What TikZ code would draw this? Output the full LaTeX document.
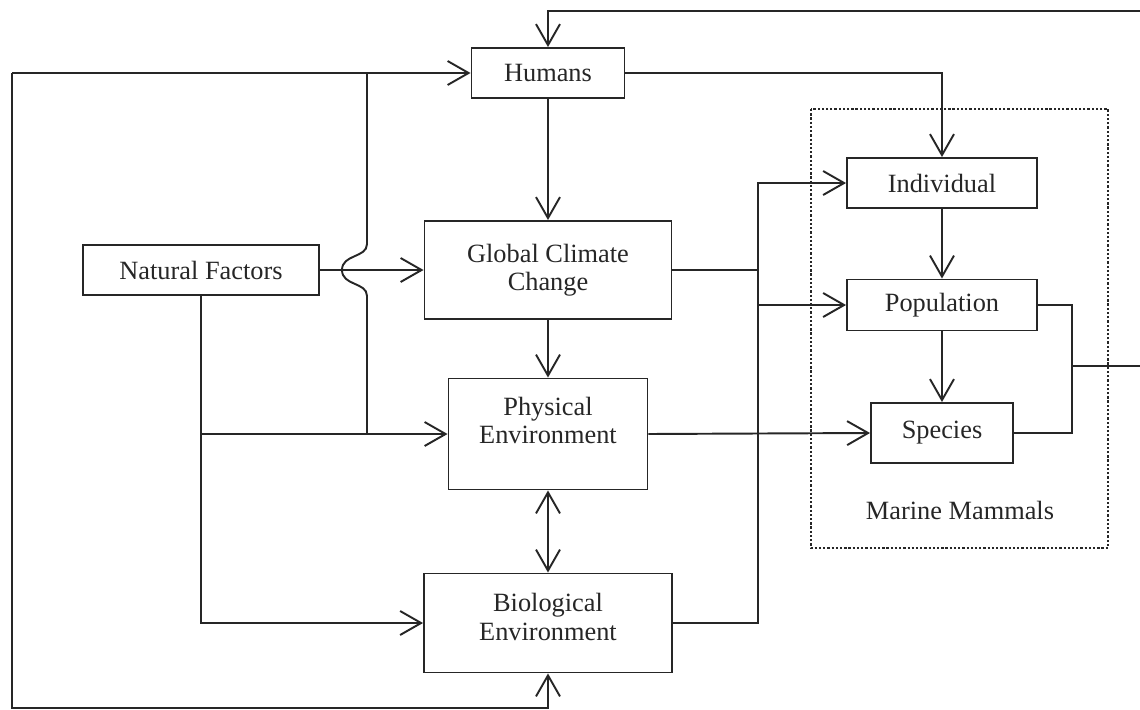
\documentclass[tikz,border=0pt]{standalone}
\usepackage{fontspec}
\setmainfont{Liberation Serif}
\usetikzlibrary{arrows.meta, calc}

\begin{document}
\begin{tikzpicture}[x=0.02cm, y=-0.02cm, line width=1.1pt, color=black!85,
    >={Straight Barb[length=4.2mm, width=4.8mm]},
    every node/.style={font=\fontsize{15}{16}\selectfont},
    box/.style={draw, align=center, inner sep=0pt},
    group/.style={line width=1.3pt, dash pattern=on 1.3pt off 1.1pt}]

        \useasboundingbox (0,0) rectangle (1140,710);
        \clip (0,0) rectangle (1140,710);

        % Boxes
        \node[box, minimum width=3.06cm, minimum height=1cm] (humans) at (548,73) {Humans};
        \node[box, minimum width=4.72cm, minimum height=1cm] (nat) at (201,270) {Natural Factors};
        \node[box, minimum width=4.94cm, minimum height=1.96cm] (gcc) at (548,270) {Global Climate\\Change};
        \node[box, minimum width=3.98cm, minimum height=2.22cm] (phys) at (548,434) {Physical\\Environment\\\mbox{}};
        \node[box, minimum width=4.96cm, minimum height=1.98cm] (bio) at (548,623) {Biological\\Environment\\[-9pt]\mbox{}};

        % Marine mammal levels
        \node[box, minimum width=3.8cm, minimum height=1cm] (ind) at (942,183) {Individual};
        \node[box, minimum width=3.8cm, minimum height=1.02cm] (pop) at (942,305) {Population};
        \node[box, minimum width=2.84cm, minimum height=1.2cm] (spec) at (942,433) {Species};
        \draw[group] (811,109) rectangle (1108,548);
        \node (mm) at (960,510) {Marine Mammals};

        % Bends and junctions
        \coordinate (looptl) at (12,73);
        \coordinate (loopbl) at (12,708);
        \coordinate (split) at (367,73);
        \coordinate (jump) at (367,270);
        \coordinate (bus) at (758,183);
        \coordinate (merge) at (1072,366);
        \coordinate (farr) at (1170,366);
        \coordinate (fartop) at (1170,11);

        % Draw Edges
        \draw[->] (looptl) -- (humans.west);
        \draw[->] (looptl) -- (loopbl) -| (bio.south);
        \draw (split) -- ($(jump)+(0,-26)$) .. controls +(0,14) and +(0,-16) .. ($(jump)+(-25,0)$)
              .. controls +(0,16) and +(0,-14) .. ($(jump)+(0,26)$) -- (split |- phys.west);
        \draw[->] (nat.east) -- (gcc.west);
        \draw[->] (nat.south) |- (bio.west);
        \draw[->] (nat.south |- phys.west) -- (phys.west);
        \draw[->] (humans.south) -- (gcc.north);
        \draw[->] (gcc.south) -- (phys.north);
        \draw[<->] (phys.south) -- (bio.north);
        \draw[->] (humans.east) -| (ind.north);
        \draw[->] (bio.east) -| (bus) -- (ind.west);
        \draw[->] (bus |- pop.west) -- (pop.west);
        \draw (gcc.east) -- (gcc.east -| bus);
        \draw[->] (phys.east) -- (spec.west);
        \draw[->] (ind.south) -- (pop.north);
        \draw[->] (pop.south) -- (spec.north);
        \draw (pop.east) -| (merge) |- (spec.east);
        \draw[->] (merge) -- (farr) -- (fartop) -| (humans.north);
    \end{tikzpicture}
\end{document}
